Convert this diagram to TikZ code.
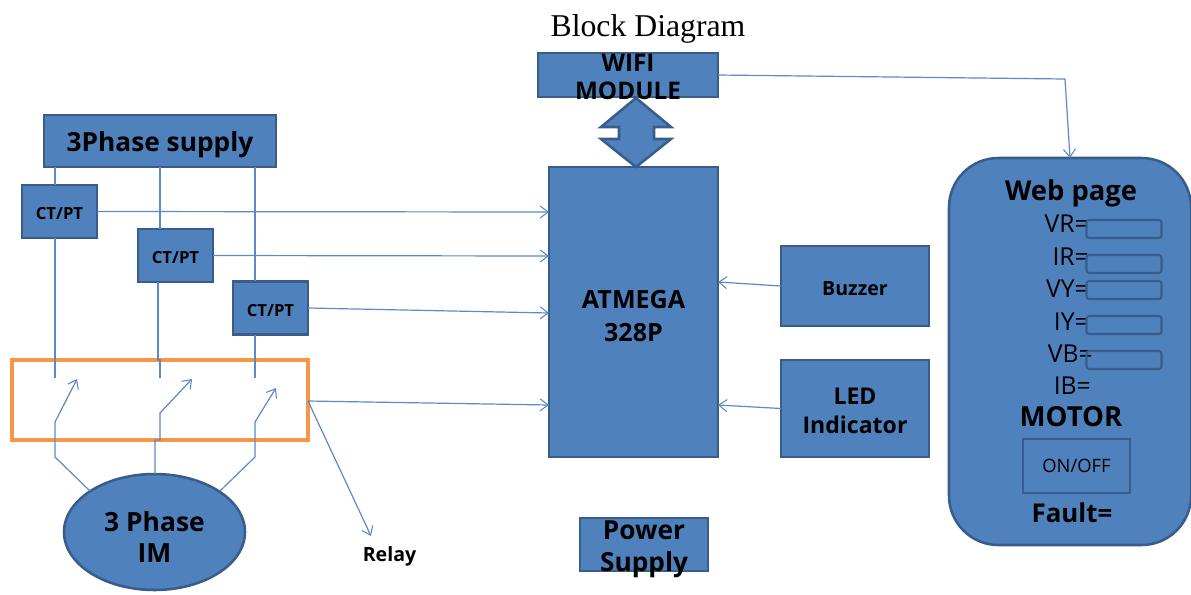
\documentclass[tikz,border=0pt]{standalone}
\usepackage{fontspec}
\setmainfont{Open Sans}
\newfontfamily\titlefont{Liberation Serif}
\usetikzlibrary{arrows.meta,shapes.geometric,calc}
\definecolor{blockfill}{HTML}{4F81BD}
\definecolor{blockedge}{HTML}{385D8A}
\definecolor{wirecol}{HTML}{5B8AC8}
\definecolor{relayedge}{HTML}{F79646}
\newcommand{\dn}[1]{\rule{0pt}{#1pt}}
\tikzset{
  block/.style={draw=blockedge,line width=1.9pt,fill=blockfill,inner sep=0pt,outer sep=0pt,align=center,text=black,font=\bfseries},
  wsize/.style n args={2}{minimum width=#1*0.75pt,minimum height=#2*0.75pt},
  fs/.style={font=\fontsize{#1}{24}\selectfont\bfseries},
  ctbox/.style={block,wsize={75}{53},fs=12.5},
  fieldbox/.style={draw=blockedge,line width=1.6pt,rounded corners=2pt,inner sep=0pt,outer sep=0pt,wsize={75}{18}},
  lbl/.style={inner sep=0pt,text=black,font=\fontsize{18.5}{22}\selectfont},
  overtext/.style={inner sep=0pt,align=center,text=black},
  wire/.style={draw=wirecol,line width=0.9pt},
  arrowline/.style={wire,-{Straight Barb[length=6pt,width=9pt,line width=0.8pt]}},
}
\begin{document}
\begin{tikzpicture}[x=0.75pt,y=-0.75pt]
\useasboundingbox (0,0) rectangle (1191,594);
\node[inner sep=0pt,font=\titlefont\fontsize{23.8}{27}\selectfont] (title) at (648,28.5) {Block Diagram};

% blocks
\node[block,wsize={180}{44}] (wifi) at (628,75) {};
\node[overtext,font=\fontsize{18.2}{21}\selectfont\bfseries] (wifitext) at (628,74) {\dn{18}WIFI\\MODULE};
\node[block,wsize={232}{52},fs=19.7] (supply) at (160,141) {\dn{21}3Phase supply};
\node[ctbox] (ct1) at (59.5,211.5) {\dn{12.5}CT/PT};
\node[ctbox] (ct2) at (175.5,255.5) {\dn{12.5}CT/PT};
\node[ctbox] (ct3) at (270.5,308) {\dn{12.5}CT/PT};
\node[draw=relayedge,line width=2.6pt,inner sep=0pt,outer sep=0pt,wsize={296}{80}] (relay) at (160,400) {};
\node[block,ellipse,wsize={181}{116},font=\fontsize{19.8}{23.25}\selectfont\bfseries] (motor) at (154.5,532) {\dn{23}3 Phase\\IM};
\node[block,wsize={169}{290},font=\fontsize{18.8}{24.75}\selectfont\bfseries] (mcu) at (633.5,312) {\dn{20.3}ATMEGA\\328P};
\node[block,wsize={148}{80},fs=14.7] (buzzer) at (855,286) {\dn{14.2}Buzzer};
\node[block,wsize={148}{97},font=\fontsize{17.3}{21.75}\selectfont\bfseries] (led) at (855,408.5) {\dn{16}LED\\Indicator};
\node[block,wsize={128}{53}] (power) at (644,544.5) {};
\node[overtext,font=\fontsize{19.7}{24}\selectfont\bfseries] (powertext) at (644,543.5) {\dn{22.5}Power\\Supply};
\node[inner sep=0pt,fs=14.7] (relaytext) at (389.5,556) {Relay};

% bidirectional block arrow
\draw[draw=blockedge,line width=1.9pt,fill=blockfill] (636,98) -- (671,127) -- (654,127) -- (654,139) -- (671,139) -- (636,167) -- (601,139) -- (619,139) -- (619,127) -- (601,127) -- cycle;

% web page
\node[block,rounded corners=37pt,wsize={242}{387}] (web) at (1070,351.5) {};
\node[inner sep=0pt,fs=20.5] (webtitle) at (1071,193) {Web page};
\node[lbl,anchor=east] (vr) at (1089,224) {VR=};
\node[lbl,anchor=east] (ir) at (1089,257) {IR=};
\node[lbl,anchor=east] (vy) at (1089,289) {VY=};
\node[lbl,anchor=east] (iy) at (1089,322) {IY=};
\node[lbl,anchor=east] (vb) at (1093,354) {VB=};
\node[lbl,anchor=east] (ib) at (1091,386) {IB=};
\node[fieldbox] (f1) at (1124,229) {};
\node[fieldbox] (f2) at (1124,264) {};
\node[fieldbox] (f3) at (1124,290) {};
\node[fieldbox] (f4) at (1124,325) {};
\node[fieldbox] (f5) at (1124,360) {};
\node[inner sep=0pt,fs=20.7] (motortext) at (1071,417) {MOTOR};
\node[draw=blockedge,line width=1.9pt,inner sep=0pt,outer sep=0pt,wsize={107}{54},font=\fontsize{13.8}{16}\selectfont] (onoff) at (1076.5,466) {ON/OFF};
\node[inner sep=0pt,fs=19.4] (fault) at (1072,513) {Fault=};

% free ends of the wiring
\coordinate (c1) at (55,378);
\coordinate (c2) at (160,378);
\coordinate (c3) at (255,378);
\coordinate (s1) at (77,379);
\coordinate (s2) at (192,379);
\coordinate (s3) at (276,388);
\coordinate (relayend) at (371,536);
\coordinate (relayout) at (308,401);

% wires from supply through CT/PT to the relay
\draw[wire] (55,167) -- (55,185);
\draw[wire] (160,167) -- (160,229);
\draw[wire] (255,167) -- (255,281);
\draw[wire] (55,238) -- (c1);
\draw[wire] (158,282) -- (158,360) -- (160,360) -- (c2);
\draw[wire] (255,335) -- (c3);

% switches and motor leads
\draw[arrowline] (90,491) -- (55,457) -- (55,422) -- (s1);
\draw[arrowline] (155,474) -- (155,440) -- (160,440) -- (160,413) -- (s2);
\draw[arrowline] (220,491) -- (255,457) -- (255,422) -- (s3);

% signals into the controller
\draw[arrowline] (ct1.east) -- (mcu.west |- 0,212);
\draw[arrowline] (ct2.east) -- (mcu.west |- 0,256);
\draw[arrowline] (ct3.east) -- (mcu.west |- 0,313);
\draw[arrowline] (relayout) -- (mcu.west |- 0,405);
\draw[arrowline] (relayout) -- (relayend);
\draw[arrowline] (buzzer.west) -- (mcu.east |- 0,282);
\draw[arrowline] (led.west) -- (mcu.east |- 0,405);
\draw[arrowline] (wifi.east) -- (1065,79) -- (web.north);
\end{tikzpicture}
\end{document}
